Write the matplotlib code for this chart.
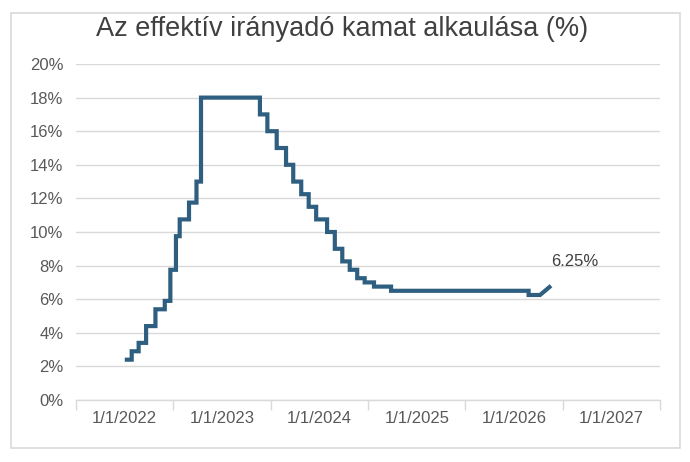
import matplotlib
matplotlib.use("Agg")
import matplotlib.pyplot as plt
from matplotlib.patches import Rectangle
from datetime import date

plt.rcParams['font.family'] = ['Liberation Sans', 'DejaVu Sans']

# --- data -------------------------------------------------------------
change_dates = [
    "2022-01-01", "2022-01-27", "2022-02-22", "2022-03-22", "2022-04-26",
    "2022-05-31", "2022-06-21", "2022-07-12", "2022-07-26", "2022-08-30",
    "2022-09-27", "2022-10-14", "2023-05-23", "2023-06-20", "2023-07-25",
    "2023-08-29", "2023-09-25", "2023-10-25", "2023-11-22", "2023-12-20",
    "2024-01-30", "2024-02-28", "2024-03-27", "2024-04-24", "2024-05-22",
    "2024-06-19", "2024-07-24", "2024-09-26", "2026-02-24",
]
rates = [
    2.4, 2.9, 3.4, 4.4, 5.4,
    5.9, 7.75, 9.75, 10.75, 11.75,
    13.0, 18.0, 17.0, 16.0, 15.0,
    14.0, 13.0, 12.25, 11.5, 10.75,
    10.0, 9.0, 8.25, 7.75, 7.25,
    7.0, 6.75, 6.5, 6.25,
]
# last flat point and final (linearly joined) point
hold_until = "2026-04-08"
end_date = "2026-05-19"
end_rate = 6.8

year_labels = ["1/1/2022", "1/1/2023", "1/1/2024", "1/1/2025", "1/1/2026", "1/1/2027"]
label_years = [2022, 2023, 2024, 2025, 2026, 2027]
y_ticks = [0, 2, 4, 6, 8, 10, 12, 14, 16, 18, 20]
title = "Az effektív irányadó kamat alkaulása (%)"
end_label = "6.25%"

# --- build step path --------------------------------------------------
def d(s):
    return date.fromisoformat(s)

xs, ys = [], []
for i, (ds, r) in enumerate(zip(change_dates, rates)):
    if i > 0:
        xs.append(d(ds)); ys.append(rates[i - 1])
    xs.append(d(ds)); ys.append(r)
xs.append(d(hold_until)); ys.append(rates[-1])
xs.append(d(end_date)); ys.append(end_rate)

# --- figure -----------------------------------------------------------
W, H = 690, 462
fig = plt.figure(figsize=(W / 100, H / 100), dpi=100)
fig.patch.set_facecolor("white")

fig.patches.append(Rectangle((11 / W, 1 - 448 / H), (680 - 11) / W, (448 - 13) / H,
                             transform=fig.transFigure, fill=False,
                             edgecolor="#d9d9d9", linewidth=1.2))

ax = fig.add_axes([76 / W, 1 - 400 / H, (660 - 76) / W, (400 - 64) / H])
ax.set_facecolor("white")

ax.plot(xs, ys, color="#2f5f80", linewidth=3.0, solid_joinstyle="miter",
        solid_capstyle="butt", zorder=3)

ax.set_ylim(0, 20)
ax.set_yticks(y_ticks)
ax.set_yticklabels([f"{v}%" for v in y_ticks])
ax.set_xlim(date(2021, 7, 2), date(2027, 7, 2))

# major ticks (marks only) at mid-year, labels at Jan 1
ax.set_xticks([date(y, 7, 2) for y in range(2021, 2028)])
ax.set_xticklabels([])
ax.set_xticks([date(y, 1, 1) for y in label_years], minor=True)
ax.set_xticklabels(year_labels, minor=True)
ax.tick_params(axis="x", which="major", length=7, color="#d9d9d9", width=1)
ax.tick_params(axis="x", which="minor", length=0, pad=8, labelsize=12,
               labelcolor="#595959")
ax.tick_params(axis="y", length=0, pad=9, labelsize=12, labelcolor="#595959")

ax.grid(axis="y", color="#d9d9d9", linewidth=1.0, zorder=0)
ax.set_axisbelow(True)
for s in ["left", "right", "top"]:
    ax.spines[s].set_visible(False)
ax.spines["bottom"].set_color("#d9d9d9")
ax.spines["bottom"].set_linewidth(1.0)

ax.text(d(end_date), 8.0, end_label, ha="left", va="baseline",
        fontsize=12, color="#404040")

fig.text(342 / W, 1 - 36 / H, title, ha="center", va="baseline",
         fontsize=19.5, color="#404040")

fig.savefig("out.png", dpi=100, facecolor="white")
